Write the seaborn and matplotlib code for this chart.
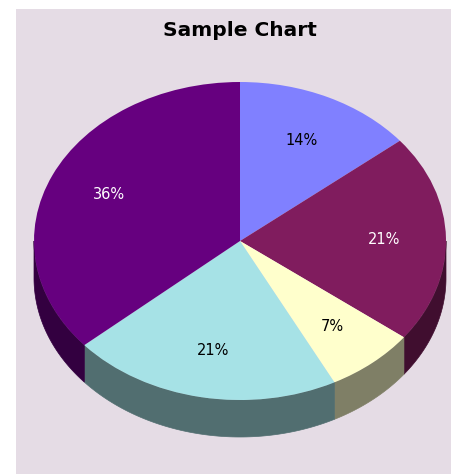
import numpy as np
import matplotlib
matplotlib.use("Agg")
import matplotlib.pyplot as plt
from matplotlib.patches import Polygon
import seaborn as sns

# Slice data, in drawing order (clockwise from 12 o'clock)
shares = [14, 21, 7, 21, 36]
top_colors = ["#8080FF", "#801C5E", "#FFFFCC", "#A6E2E6", "#66007F"]
side_colors = ["#404080", "#400E2F", "#7F7F66", "#516E70", "#330040"]
label_colors = ["black", "white", "black", "black", "white"]
title = "Sample Chart"

sns.set_theme(style="white")
plt.rcParams["font.family"] = ["DejaVu Sans"]

W, H = 451, 474
fig = plt.figure(figsize=(W / 100, H / 100), dpi=100, facecolor="white")

# Panel area (pixels) and pie ellipse geometry (pixels)
px0, py0 = 16, 9
cx, cy, rx, ry, depth_px = 240, 241, 206, 159, 37

ax = fig.add_axes([px0 / W, 0, (W - px0) / W, (H - py0) / H])
ax.set_facecolor("#E5DCE5")

total = sum(shares)
wedges, texts, autotexts = ax.pie(
    shares,
    colors=top_colors,
    startangle=90,
    counterclock=False,
    radius=1.0,
    center=(0, 0),
    autopct=lambda p: f"{p * total / 100:.0f}%",
    pctdistance=0.70,
    wedgeprops=dict(linewidth=0, antialiased=True),
    textprops=dict(fontsize=10.5),
    frame=True,
)
ax.set_xlim((px0 - cx) / rx, (W - cx) / rx)
ax.set_ylim((cy - H) / ry, (cy - py0) / ry)
ax.set_aspect("auto")
ax.set_xticks([])
ax.set_yticks([])
for s in ax.spines.values():
    s.set_visible(False)

for w in wedges:
    w.set_zorder(3)
for t, c in zip(autotexts, label_colors):
    t.set_color(c)
    t.set_zorder(4)

# Cylinder side: visible front part of each slice (lower half of the ellipse)
depth = depth_px / ry
for w, sc in zip(wedges, side_colors):
    a1, a2 = sorted((w.theta1, w.theta2))
    lo = a1 % 360
    hi = lo + (a2 - a1)
    segs = []
    for base in (0, 360, -360):
        s0 = max(lo + base, 180)
        s1 = min(hi + base, 360)
        if s1 > s0:
            segs.append((s0, s1))
    for s0, s1 in segs:
        t = np.radians(np.linspace(s0, s1, 100))
        xs = np.cos(t)
        ys = np.sin(t)
        pts = np.concatenate([
            np.column_stack([xs, ys]),
            np.column_stack([xs[::-1], ys[::-1] - depth]),
        ])
        ax.add_patch(Polygon(pts, closed=True, facecolor=sc, edgecolor=sc,
                             linewidth=0.5, zorder=2))

fig.text(cx / W, 1 - 31 / H, title, ha="center", va="center",
         fontsize=14.5, fontweight="bold", color="black")

fig.savefig("out.png", dpi=100, facecolor="white")
